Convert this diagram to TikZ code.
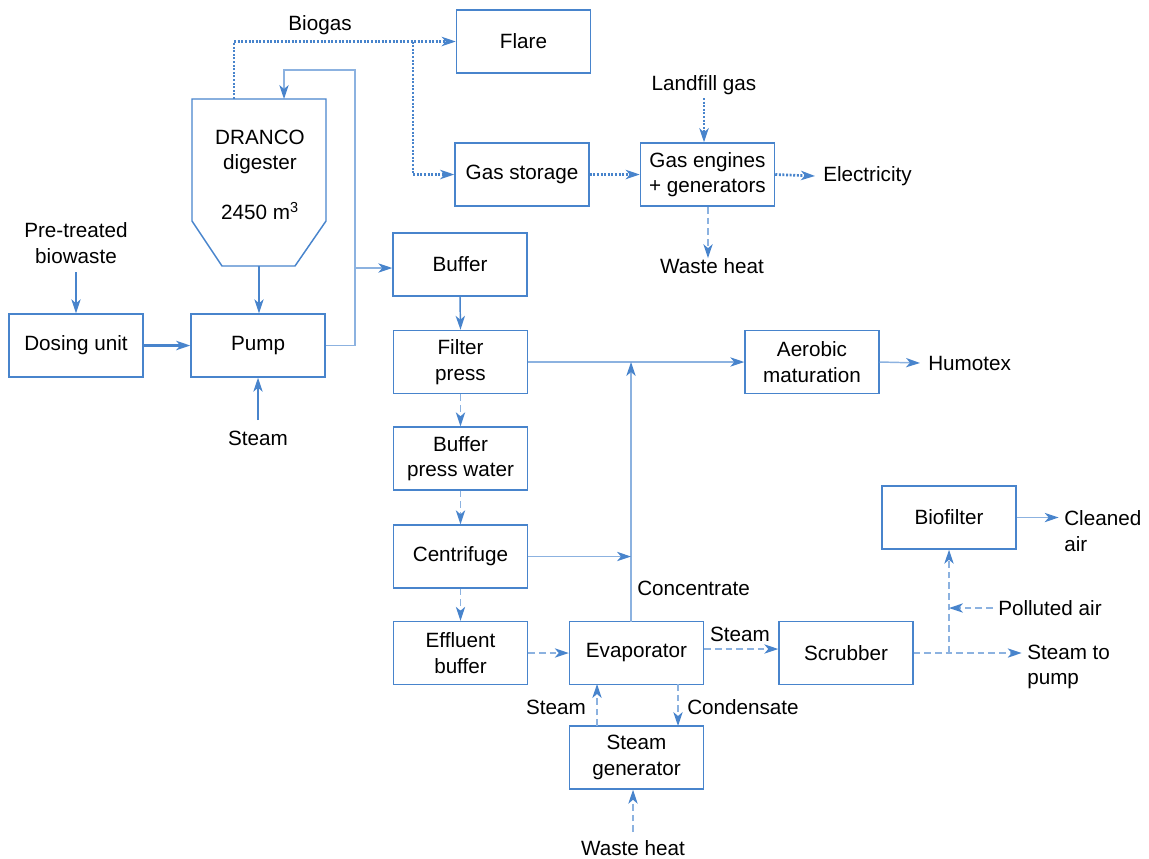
\documentclass[tikz,border=0pt]{standalone}
\usepackage{fontspec}
\setmainfont{Liberation Sans}
\usetikzlibrary{arrows.meta}
\definecolor{flow}{RGB}{72,132,204}
\definecolor{flowlight}{RGB}{140,178,224}

\begin{document}
\begin{tikzpicture}[x=0.75pt,y=-0.75pt,
  font=\fontsize{15.5}{19}\selectfont,
  box/.style={draw=flow, line width=1.1pt, minimum width=100.5pt,
              minimum height=47.25pt, inner sep=0pt, align=center},
  lbl/.style={inner sep=0pt, align=center},
  lbll/.style={inner sep=0pt, align=left, anchor=west},
  tip/.style={-{Stealth[length=10.5pt,width=7pt,inset=3pt,color=flow]}},
  main/.style={draw=flow, line width=1.1pt, tip},
  light/.style={draw=flowlight, line width=0.9pt, tip},
  gas/.style={draw=flow, line width=2pt, dash pattern=on 1.5pt off 1.2pt, tip},
  wet/.style={draw=flowlight, line width=1pt, dash pattern=on 5pt off 3pt, tip},
  heavy/.style={draw=flow, line width=2pt, tip}
]
\useasboundingbox (0,0) rectangle (1149,858);

% ---- process units ----
\node[box] (flare)     at (523.5,41.5)  {Flare};
\node[box] (gasst)     at (522,174.5)   {Gas storage};
\node[box] (engines)   at (707.5,174.5) {Gas engines\\+ generators};
\node[box] (buffer)    at (460,264.5)   {Buffer};
\node[box] (dosing)    at (76,345.5)    {Dosing unit};
\node[box] (pump)      at (258,345.5)   {Pump};
\node[box] (filter)    at (460.5,362)   {Filter\\press};
\node[box] (bpw)       at (460.5,458.5) {Buffer\\press water};
\node[box] (centr)     at (460.5,556.5) {Centrifuge};
\node[box] (effluent)  at (460.5,653)   {Effluent\\buffer};
\node[box] (evap)      at (636.5,653)   {Evaporator};
\node[box] (scrubber)  at (846,653)     {Scrubber};
\node[box] (steamgen)  at (636.5,757.5) {Steam\\generator};
\node[box] (aerobic)   at (812,362)     {Aerobic\\maturation};
\node[box] (biofilter) at (949,517.5)   {Biofilter};

% ---- digester vessel ----
\draw[flow, line width=1.1pt] (192,99) -- (326,99) -- (326,221) -- (295,266)
  -- (222,266) -- (192,221) -- cycle;
\node[lbl] (digname) at (260,152) {DRANCO\\digester};
\node[lbl] (digvol)  at (260,211) {2450 m\textsuperscript{3}};
\coordinate (dig-gas) at (234,99);
\coordinate (dig-in)  at (284,99);
\coordinate (dig-out) at (259,266);

% ---- free labels ----
\node[lbl] (biogas)   at (320,25)  {Biogas};
\node[lbl] (landfill) at (704,85)  {Landfill gas};
\node[lbll] (elec)    at (823,176) {Electricity};
\node[lbl] (wheat1)   at (712,266) {Waste heat};
\node[lbl] (pretr)    at (76,243)  {Pre-treated\\biowaste};
\node[lbl] (steamin)  at (258,438) {Steam};
\node[lbll] (humotex) at (928,363) {Humotex};
\node[lbll] (conc)    at (637,588) {Concentrate};
\node[lbl] (stm1)     at (740,634) {Steam};
\node[lbl] (stm2)     at (556,707) {Steam};
\node[lbll] (cond)    at (687,707) {Condensate};
\node[lbl] (wheat2)   at (633,848) {Waste heat};
\node[lbll] (stpump)  at (1027,667){Steam to\\pump};
\node[lbll] (poll)    at (998,608) {Polluted air};
\node[lbll] (clean)   at (1064,531){Cleaned\\air};

% ---- biogas lines ----
\coordinate (gas-split) at (413,41.5);
\draw[gas] (dig-gas) |- (flare.west);
\draw[gas] (gas-split) |- (gasst.west);
\draw[gas] (gasst.east) -- (engines.west);
\draw[gas] (landfill.south |- 0,98) -- (landfill.south |- engines.north);
\draw[gas] (engines.east) -- ([xshift=-6pt]elec.west);
\draw[wet] (708,207) -- (wheat1.north -| 708,0);

% ---- digestate loop ----
\draw[main] (pretr.south |- 0,272) -- (pretr.south |- dosing.north);
\draw[heavy] (dosing.east) -- (pump.west);
\draw[main] (dig-out) -- (dig-out |- pump.north);
\draw[main] (steamin.north |- 0,420) -- (steamin.north |- pump.south);
\coordinate (rec-top) at (355,70);
\draw[light] (pump.east) -| (rec-top) -| (dig-in);
\draw[light] (rec-top |- 0,268) -- (buffer.west |- 0,268);

% ---- dewatering line ----
\draw[main] (buffer.south) -- (filter.north);
\draw[light] (filter.east) -- (aerobic.west);
\draw[main, draw=flowlight] (aerobic.east) -- ([xshift=-6pt]humotex.west);
\draw[wet] (filter.south) -- (bpw.north);
\draw[wet] (bpw.south) -- (centr.north);
\draw[wet] (centr.south) -- (effluent.north);
\coordinate (conc-bot) at (631,622);
\draw[light] (conc-bot) -- (631,362);
\draw[light] (centr.east) -- (centr.east -| conc-bot);

% ---- water treatment ----
\draw[wet] (effluent.east) -- (evap.west);
\draw[wet] (evap.east |- 0,649) -- (scrubber.west |- 0,649);
\draw[wet] (597,726) -- (597,684);
\draw[wet] (678,684) -- (678,726);
\draw[wet] (wheat2.north |- 0,832) -- (wheat2.north |- steamgen.south);
\draw[wet] (scrubber.east) -- ([xshift=-4pt]stpump.west |- scrubber.east);
\coordinate (air-split) at (949,653);
\draw[wet] (air-split) -- (biofilter.south);
\draw[wet] ([xshift=-4pt]poll.west) -- (poll.west -| air-split);
\draw[main, draw=flowlight] (biofilter.east) -- ([xshift=-4pt]clean.west |- biofilter.east);
\end{tikzpicture}
\end{document}
